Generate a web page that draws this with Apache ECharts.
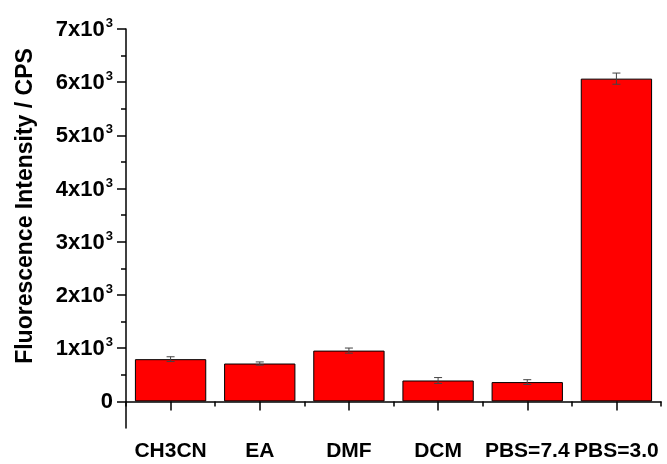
<!DOCTYPE html>
<html>
<head>
<meta charset="utf-8">
<script src="https://cdn.jsdelivr.net/npm/echarts@6/dist/echarts.min.js"></script>
<style>
html,body{margin:0;padding:0;background:#fff;}
#c{width:667px;height:464px;}
</style>
</head>
<body>
<div id="c"></div>
<script>
const categories = ['CH3CN', 'EA', 'DMF', 'DCM', 'PBS=7.4', 'PBS=3.0'];
const values = [794, 712, 955, 393, 363, 6067];
const errors = [45, 30, 48, 55, 45, 105];
const majorTicks = [0, 1000, 2000, 3000, 4000, 5000, 6000, 7000];
const minorTicks = [500, 1500, 2500, 3500, 4500, 5500, 6500];
const yTitle = 'Fluorescence Intensity / CPS';

const FONT = '"Liberation Sans", Arial, sans-serif';
const chart = echarts.init(document.getElementById('c'), null, {renderer: 'canvas'});

const errData = values.map((v, i) => [i, v - errors[i], v + errors[i]]);

chart.setOption({
  backgroundColor: '#ffffff',
  animation: false,
  grid: {left: 126, right: 6, top: 29, bottom: 36, containLabel: false},
  xAxis: [
    {
      type: 'category', data: categories,
      axisLine: {show: true, lineStyle: {color: '#000', width: 1.5}},
      axisTick: {show: true, alignWithLabel: true, length: 9, lineStyle: {color: '#000', width: 1.5}},
      axisLabel: {color: '#000', fontFamily: FONT, fontWeight: 'bold', fontSize: 21, margin: 13, interval: 0}
    },
    {
      type: 'category', data: categories, position: 'bottom',
      axisLine: {show: false},
      axisTick: {show: true, alignWithLabel: false, length: 5, lineStyle: {color: '#000', width: 1.5}},
      axisLabel: {show: false}
    }
  ],
  yAxis: [
    {
      type: 'value', min: -500, max: 7000,
      axisLine: {show: true, lineStyle: {color: '#000', width: 1.5}},
      axisTick: {show: true, length: 9, customValues: majorTicks, lineStyle: {color: '#000', width: 1.5}},
      splitLine: {show: false},
      axisLabel: {
        customValues: majorTicks,
        margin: 13,
        color: '#000',
        formatter: function (v) {
          if (v === 0) return '{b|0}';
          return '{b|' + (v / 1000) + 'x10}{s|3}';
        },
        rich: {
          b: {fontFamily: FONT, fontWeight: 'bold', fontSize: 22, color: '#000', lineHeight: 24, verticalAlign: 'bottom'},
          s: {fontFamily: FONT, fontWeight: 'bold', fontSize: 13, color: '#000', lineHeight: 24, verticalAlign: 'top', padding: [0, 0, 10, 1]}
        }
      }
    },
    {
      type: 'value', min: -500, max: 7000, position: 'left',
      axisLine: {show: false},
      axisTick: {show: true, length: 5, customValues: minorTicks, lineStyle: {color: '#000', width: 1.5}},
      splitLine: {show: false},
      axisLabel: {show: false}
    }
  ],
  graphic: [{
    type: 'text',
    x: 26, y: 206,
    rotation: Math.PI / 2,
    style: {
      text: yTitle,
      fontFamily: FONT, fontWeight: 'bold', fontSize: 23,
      fill: '#000', align: 'center', verticalAlign: 'middle'
    }
  }],
  series: [
    {
      type: 'bar', xAxisIndex: 0, yAxisIndex: 0,
      data: values,
      barCategoryGap: '20%',
      itemStyle: {color: '#ff0000', borderColor: '#000', borderWidth: 1}
    },
    {
      type: 'custom', xAxisIndex: 0, yAxisIndex: 0,
      data: errData,
      z: 10,
      renderItem: function (params, api) {
        const x = api.value(0);
        const lo = api.coord([x, api.value(1)]);
        const hi = api.coord([x, api.value(2)]);
        const hw = 4;
        const st = {stroke: '#444', lineWidth: 1};
        return {
          type: 'group',
          children: [
            {type: 'line', shape: {x1: lo[0], y1: lo[1], x2: hi[0], y2: hi[1]}, style: st},
            {type: 'line', shape: {x1: lo[0] - hw, y1: lo[1], x2: lo[0] + hw, y2: lo[1]}, style: st},
            {type: 'line', shape: {x1: hi[0] - hw, y1: hi[1], x2: hi[0] + hw, y2: hi[1]}, style: st}
          ]
        };
      }
    }
  ]
});
</script>
</body>
</html>
